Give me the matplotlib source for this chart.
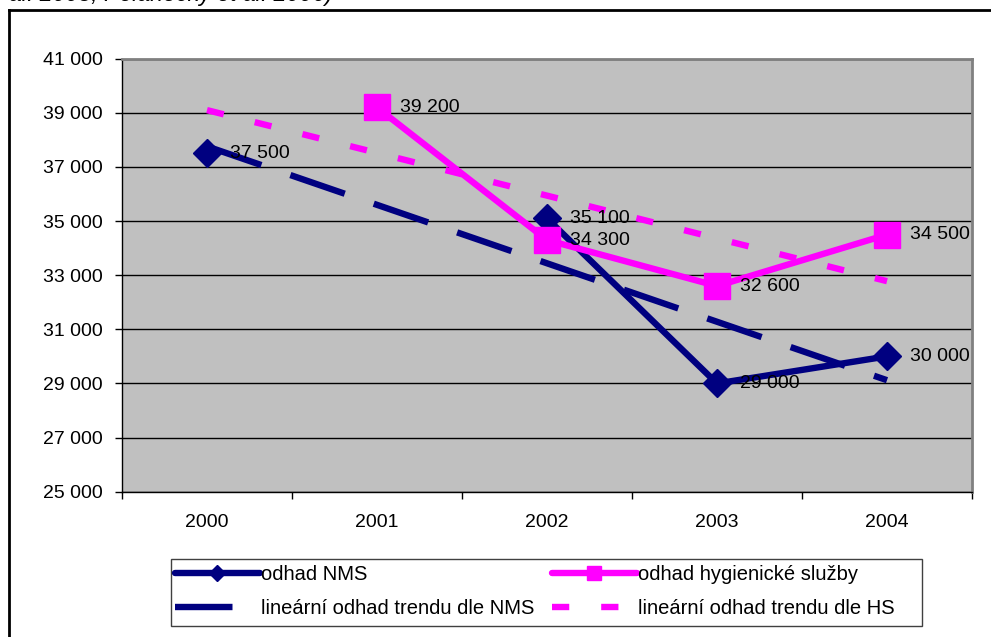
import numpy as np
import matplotlib.pyplot as plt
from matplotlib.lines import Line2D
from matplotlib.patches import Rectangle
from matplotlib.ticker import FuncFormatter

plt.rcParams['font.family'] = ['Liberation Sans', 'DejaVu Sans']

# yearly estimates (missing years as NaN)
years = ['2000', '2001', '2002', '2003', '2004']
nms = [37500, np.nan, 35100, 29000, 30000]
hs = [np.nan, 39200, 34300, 32600, 34500]

label_nms = 'odhad NMS'
label_hs = 'odhad hygienické služby'
label_nms_trend = 'lineární odhad trendu dle NMS'
label_hs_trend = 'lineární odhad trendu dle HS'

NAVY = '#000080'
MAGENTA = '#FF00FF'

W, H = 991, 637
fig = plt.figure(figsize=(W / 100, H / 100), dpi=100)
ax = fig.add_axes([122 / W, 1 - 491.7 / H, 850 / W, 433 / H])
ax.set_facecolor('#C0C0C0')

x = np.arange(len(years))
nms_arr = np.array(nms, dtype=float)
hs_arr = np.array(hs, dtype=float)


def trend(vals):
    ok = ~np.isnan(vals)
    k, q = np.polyfit(x[ok], vals[ok], 1)
    xs = np.array([x[0], x[-1]])
    return xs, k * xs + q


lw = 4.6
nms_dash = (9.0, 4.8)
hs_dash = (2.7, 5.0)

tx, ty = trend(nms_arr)
ax.plot(tx, ty, color=NAVY, lw=lw, dashes=nms_dash, dash_capstyle='butt', zorder=3)
tx, ty = trend(hs_arr)
ax.plot(tx, ty, color=MAGENTA, lw=lw, dashes=hs_dash, dash_capstyle='butt', zorder=3)

ax.plot(x, nms_arr, color=NAVY, lw=lw, marker='D', ms=14, mec=NAVY, zorder=4)
ax.plot(x, hs_arr, color=MAGENTA, lw=lw, marker='s', ms=19, mec=MAGENTA, zorder=5)


def fmt(v):
    return f'{int(round(v)):,}'.replace(',', ' ')


for xi, v in zip(x, nms_arr):
    if not np.isnan(v):
        ax.annotate(fmt(v), (xi, v), xytext=(16.5, 0), textcoords='offset points',
                    va='center', ha='left', fontsize=14, zorder=6)
for xi, v in zip(x, hs_arr):
    if not np.isnan(v):
        ax.annotate(fmt(v), (xi, v), xytext=(16.5, 0), textcoords='offset points',
                    va='center', ha='left', fontsize=14, zorder=6)

ax.set_xlim(-0.5, len(years) - 0.5)
ax.set_ylim(25000, 41000)
ax.set_yticks(np.arange(25000, 41001, 2000))
ax.yaxis.set_major_formatter(FuncFormatter(lambda v, p: fmt(v)))
ax.yaxis.grid(True, color='black', lw=1)
ax.set_axisbelow(True)

ax.set_xticks(x)
ax.set_xticklabels(years)
ax.set_xticks(np.arange(-0.5, len(years), 1), minor=True)
ax.tick_params(axis='x', which='major', length=0, pad=16, labelsize=14)
ax.tick_params(axis='x', which='minor', length=5, width=1, direction='out')
ax.tick_params(axis='y', length=5, width=1, pad=9, labelsize=14)

for s in ['left', 'bottom']:
    ax.spines[s].set_color('black')
    ax.spines[s].set_linewidth(1)
for s in ['top', 'right']:
    ax.spines[s].set_color('#808080')
    ax.spines[s].set_linewidth(2)

# outer frame of the chart (continues past the right and bottom edge)
fig.add_artist(Line2D([8.7 / W, 8.7 / W], [-0.1, 1 - 9.5 / H], color='black', lw=2,
                      transform=fig.transFigure))
fig.add_artist(Line2D([8.7 / W, 1.1], [1 - 9.5 / H, 1 - 9.5 / H], color='black', lw=2,
                      transform=fig.transFigure))

# source line running above the chart frame
fig.text(9 / W, 1 - 0.8 / H, 'al. 2005, Polanecký et al. 2006)', style='italic',
         fontsize=16.7, ha='left', va='baseline')

# legend box
fig.add_artist(Rectangle((171 / W, 1 - 626 / H), 751 / W, 67 / H, fill=False,
                         edgecolor='#404040', lw=1, transform=fig.transFigure))

h_nms = Line2D([], [], color=NAVY, lw=lw, marker='D', ms=8, solid_capstyle='round')
h_nms_t = Line2D([], [], color=NAVY, lw=lw, dashes=nms_dash)
h_hs = Line2D([], [], color=MAGENTA, lw=lw, marker='s', ms=10, solid_capstyle='round')
h_hs_t = Line2D([], [], color=MAGENTA, lw=lw, dashes=hs_dash)

leg_kw = dict(loc='upper left', frameon=False, fontsize=14.5, handlelength=4.2,
              handletextpad=0.05, borderpad=0, borderaxespad=0, labelspacing=0.7)
leg1 = fig.legend([h_nms, h_nms_t], [label_nms, label_nms_trend],
                  bbox_to_anchor=(175 / W, 1 - 565.5 / H), **leg_kw)
leg2 = fig.legend([h_hs, h_hs_t], [label_hs, label_hs_trend],
                  bbox_to_anchor=(552 / W, 1 - 565.5 / H), **leg_kw)

fig.savefig('out.png', dpi=100)
